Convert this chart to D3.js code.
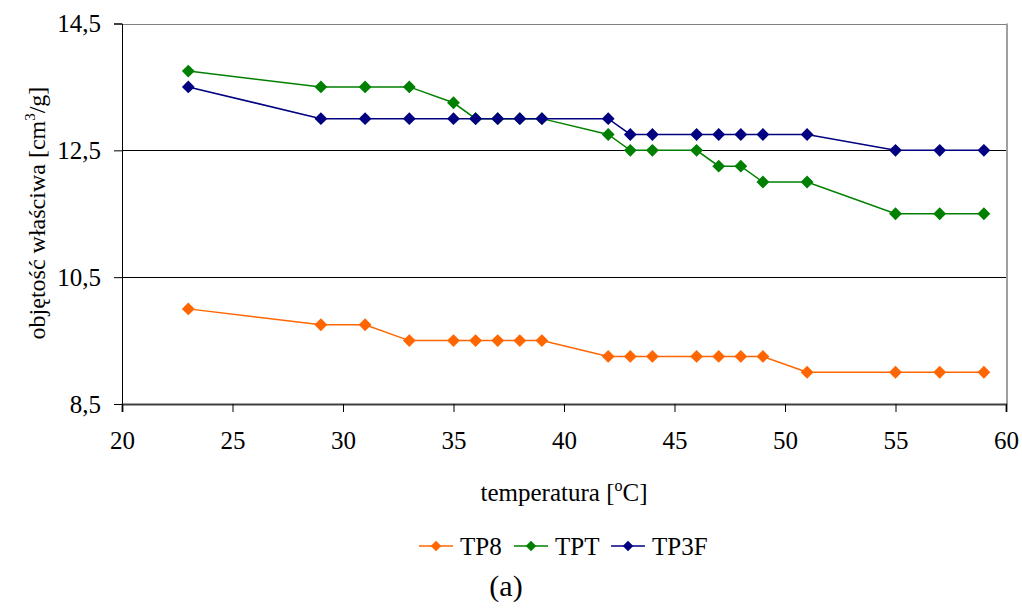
<!DOCTYPE html>
<html>
<head>
<meta charset="utf-8">
<script src="https://cdn.jsdelivr.net/npm/d3@7"></script>
<style>
  body { margin: 0; background: #fff; }
  svg text { font-family: "Liberation Serif", "DejaVu Serif", serif !important; fill: #000; }
</style>
</head>
<body>
<div id="chart"></div>
<script>
// Temperatures (x) and specific volume per series
var temps = [23, 29, 31, 33, 35, 36, 37, 38, 39, 42, 43, 44, 46, 47, 48, 49, 51, 55, 57, 59];
var tp8 = [10.0, 9.75, 9.75, 9.5, 9.5, 9.5, 9.5, 9.5, 9.5, 9.25, 9.25, 9.25, 9.25, 9.25, 9.25, 9.25, 9.0, 9.0, 9.0, 9.0];
var tpt = [13.75, 13.5, 13.5, 13.5, 13.25, 13.0, 13.0, 13.0, 13.0, 12.75, 12.5, 12.5, 12.5, 12.25, 12.25, 12.0, 12.0, 11.5, 11.5, 11.5];
var tp3f = [13.5, 13.0, 13.0, 13.0, 13.0, 13.0, 13.0, 13.0, 13.0, 13.0, 12.75, 12.75, 12.75, 12.75, 12.75, 12.75, 12.75, 12.5, 12.5, 12.5];
var seriesNames = ['TP8', 'TPT', 'TP3F'];
var seriesColors = ['#ff6600', '#008000', '#000080'];
var xTicks = [20, 25, 30, 35, 40, 45, 50, 55, 60];
var yTicks = [8.5, 10.5, 12.5, 14.5];

var width = 1022, height = 610,
    plotLeft = 122, plotRight = 1006, plotTop = 23.5, plotBottom = 404;

var svg = d3.select('#chart').append('svg')
    .attr('width', width)
    .attr('height', height)
    .attr('font-family', 'Liberation Serif');

var x = d3.scaleLinear().domain([20, 60]).range([plotLeft, plotRight]);
var y = d3.scaleLinear().domain([8.5, 14.5]).range([plotBottom, plotTop]);

var fmt = function (d) { return String(d).replace('.', ','); };

// Gridlines
svg.append('g').selectAll('line')
    .data(yTicks.slice(1))
    .enter().append('line')
    .attr('x1', plotLeft).attr('x2', plotRight)
    .attr('y1', function (d) { return Math.round(y(d)) + 0.5; })
    .attr('y2', function (d) { return Math.round(y(d)) + 0.5; })
    .style('stroke', function (d) { return d === 14.5 ? '#808080' : '#000'; })
    .style('stroke-width', 1);

// Right border
svg.append('line')
    .attr('x1', plotRight + 1).attr('x2', plotRight + 1)
    .attr('y1', plotTop).attr('y2', plotBottom)
    .style('stroke', '#a0a0a0')
    .style('stroke-width', 2);

// Y axis
var yAxis = svg.append('g')
    .attr('transform', 'translate(' + plotLeft + ',0)')
    .call(d3.axisLeft(y).tickValues(yTicks).tickFormat(fmt).tickSize(8).tickPadding(13));
yAxis.attr('font-family', 'Liberation Serif');
yAxis.select('.domain').style('stroke', '#000');
yAxis.selectAll('line').style('stroke', '#000');
yAxis.selectAll('text').style('font-size', '25px');

// X axis
var xAxis = svg.append('g')
    .attr('transform', 'translate(0,' + plotBottom + ')')
    .call(d3.axisBottom(x).tickValues(xTicks).tickSize(8).tickPadding(19));
xAxis.attr('font-family', 'Liberation Serif');
xAxis.select('.domain').style('stroke', '#404040').style('stroke-width', 2);
xAxis.selectAll('line').style('stroke', '#000');
xAxis.selectAll('text').style('font-size', '25px');

// Axis titles
var xt = svg.append('text')
    .attr('x', 564).attr('y', 501)
    .attr('text-anchor', 'middle')
    .style('font-size', '25px');
xt.append('tspan').text('temperatura [');
xt.append('tspan').attr('dy', -10).style('font-size', '16px').text('o');
xt.append('tspan').attr('dy', 10).text('C]');

var yt = svg.append('text')
    .attr('transform', 'translate(45,213) rotate(-90)')
    .attr('text-anchor', 'middle')
    .style('font-size', '24px');
yt.append('tspan').text('objętość właściwa [cm');
yt.append('tspan').attr('dy', -10).style('font-size', '15px').text('3');
yt.append('tspan').attr('dy', 10).text('/g]');

// Series
var allSeries = [tp8, tpt, tp3f];
var line = d3.line()
    .x(function (d, i) { return x(temps[i]); })
    .y(function (d) { return y(d); });
var diamond = d3.symbol().type(d3.symbolDiamond2).size(105);

allSeries.forEach(function (vals, s) {
    var g = svg.append('g');
    g.append('path')
        .datum(vals)
        .attr('d', line)
        .style('fill', 'none')
        .style('stroke', seriesColors[s])
        .style('stroke-width', 1.5);
    g.selectAll('path.pt')
        .data(vals)
        .enter().append('path')
        .attr('class', 'pt')
        .attr('d', diamond)
        .attr('transform', function (d, i) { return 'translate(' + x(temps[i]) + ',' + y(d) + ')'; })
        .style('fill', seriesColors[s]);
});

// Legend
var legendX = [419, 514, 611];
seriesNames.forEach(function (name, s) {
    var lg = svg.append('g').attr('transform', 'translate(' + legendX[s] + ',546)');
    lg.append('line')
        .attr('x1', 0).attr('x2', 34)
        .style('stroke', seriesColors[s])
        .style('stroke-width', 1.5);
    lg.append('path')
        .attr('d', d3.symbol().type(d3.symbolDiamond2).size(70))
        .attr('transform', 'translate(17,0)')
        .style('fill', seriesColors[s]);
    lg.append('text')
        .attr('x', 41).attr('y', 9)
        .style('font-size', '25px')
        .text(name);
});

svg.append('text')
    .attr('x', 506).attr('y', 596)
    .attr('text-anchor', 'middle')
    .style('font-size', '30px')
    .text('(a)');
</script>
</body>
</html>
